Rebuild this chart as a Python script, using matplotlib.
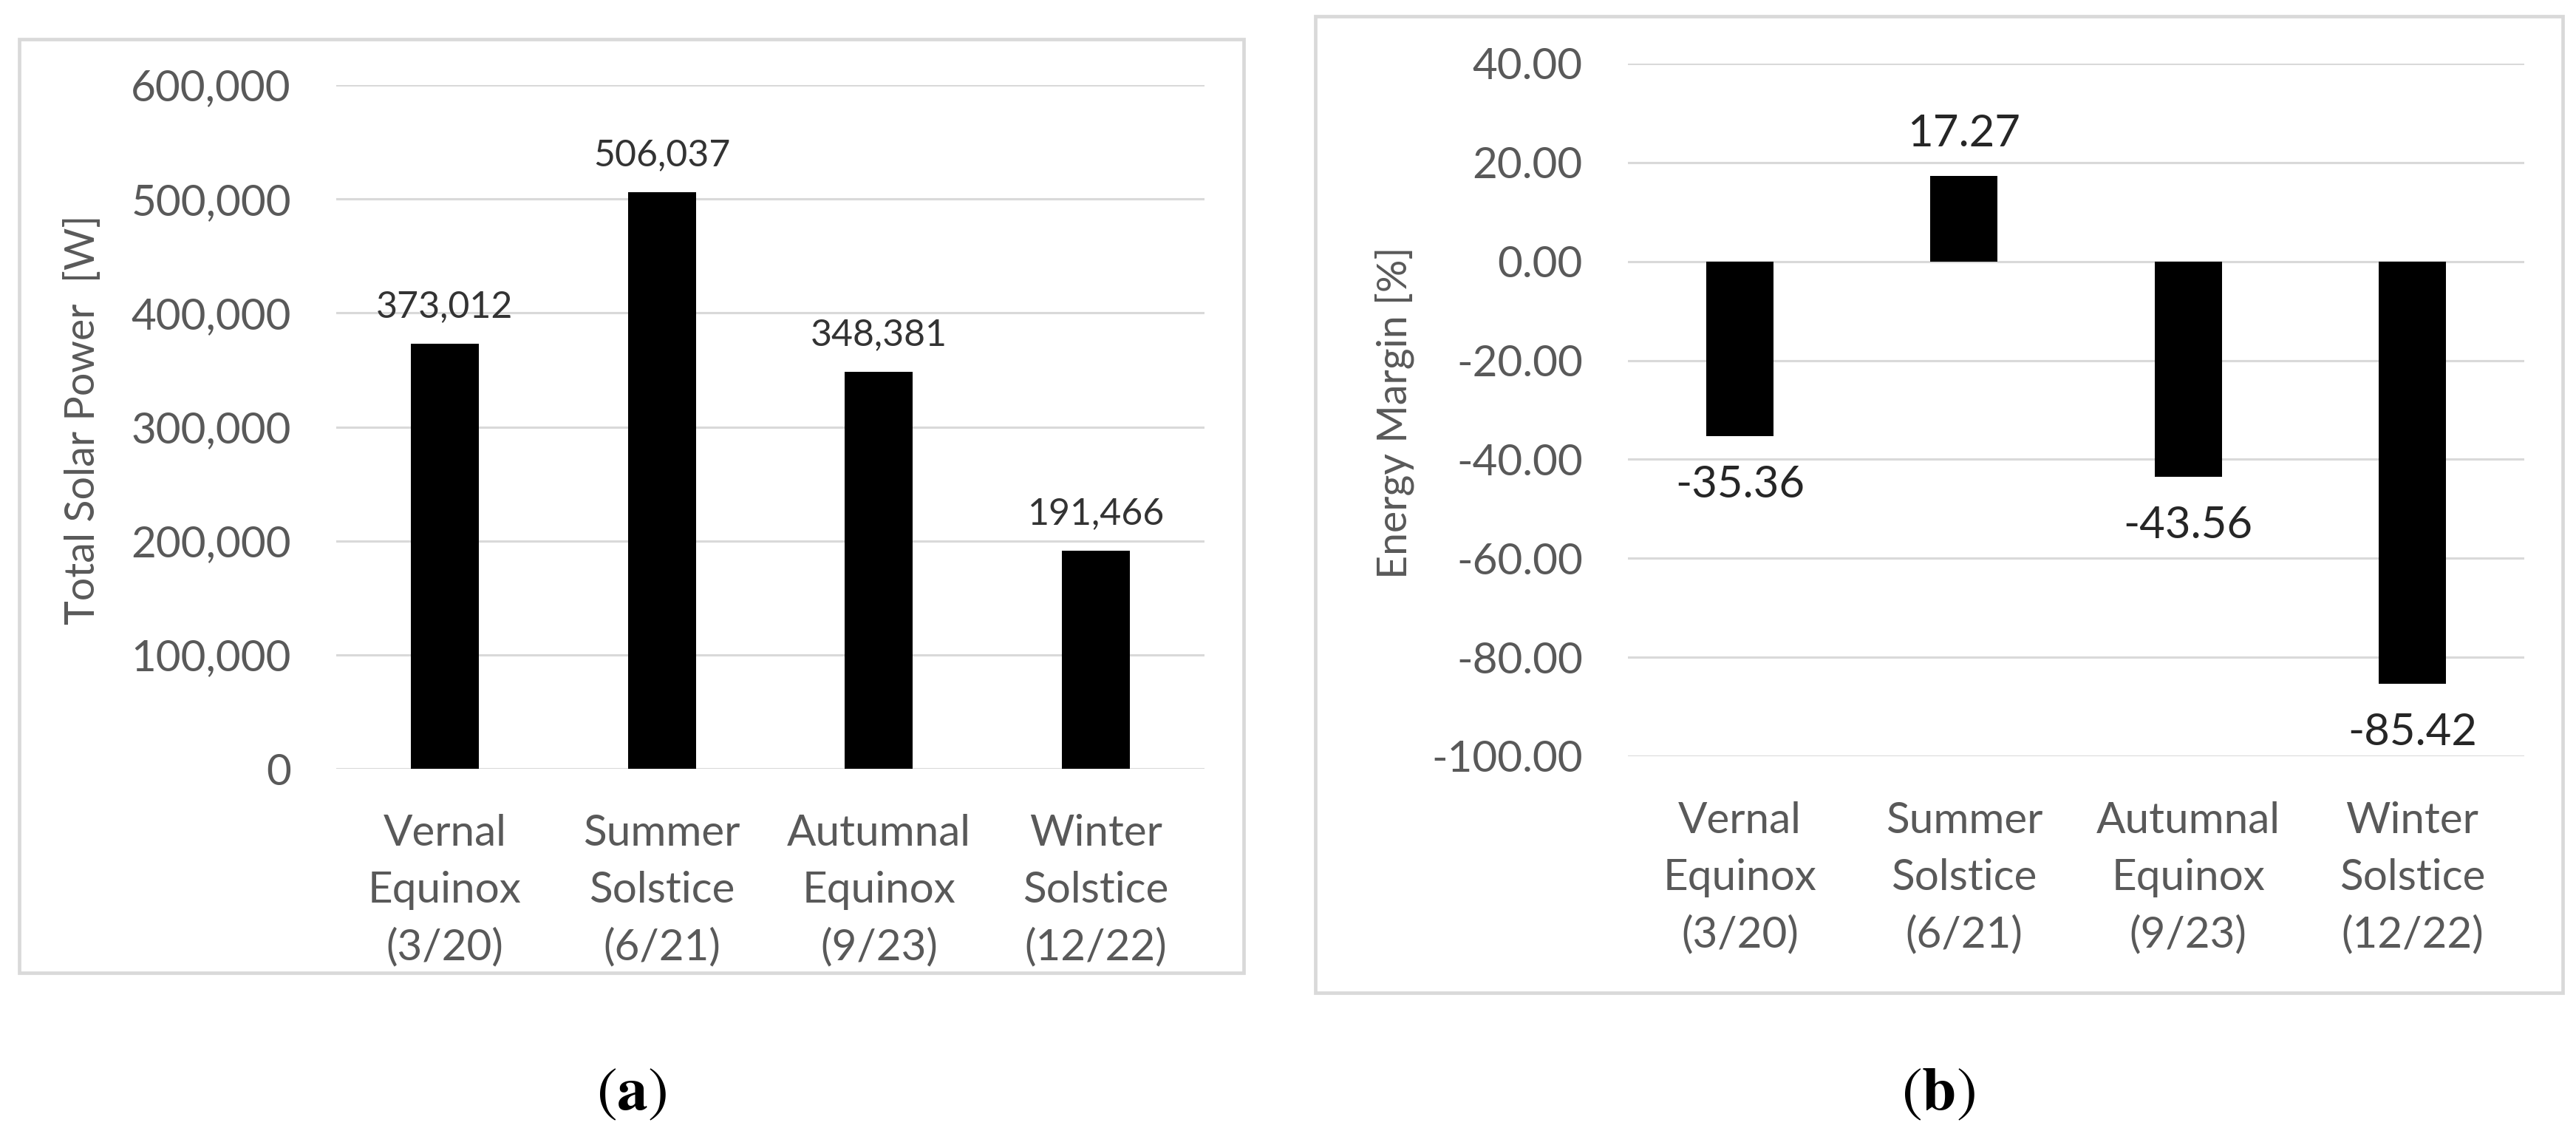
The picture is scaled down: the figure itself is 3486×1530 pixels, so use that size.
import matplotlib
matplotlib.use("Agg")
import matplotlib.pyplot as plt
from matplotlib.patches import Rectangle
from matplotlib.ticker import FuncFormatter, FixedLocator

# ---------------- data ----------------
categories = ["Vernal\nEquinox\n(3/20)", "Summer\nSolstice\n(6/21)",
              "Autumnal\nEquinox\n(9/23)", "Winter\nSolstice\n(12/22)"]
solar_power = [373012, 506037, 348381, 191466]
energy_margin = [-35.36, 17.27, -43.56, -85.42]
power_ticks = [0, 100000, 200000, 300000, 400000, 500000, 600000]
margin_ticks = [-100, -80, -60, -40, -20, 0, 20, 40]
ylabel_a = "Total Solar Power  [W]"
ylabel_b = "Energy Margin [%]"

# ---------------- style ----------------
W, H, DPI = 3486, 1530, 200
plt.rcParams['font.family'] = ['Lato', 'DejaVu Sans']
plt.rcParams['mathtext.fontset'] = 'stix'
TICK_C = '#595959'
GRID_C = '#D9D9D9'

fig = plt.figure(figsize=(W / DPI, H / DPI), dpi=DPI)


def px_rect(x0, y0, x1, y1):
    return (x0 / W, 1 - y1 / H, (x1 - x0) / W, (y1 - y0) / H)


# panel borders
for (x0, y0, x1, y1) in [(26, 53, 1683, 1316), (1780, 22, 3468, 1343)]:
    l, b, w, h = px_rect(x0, y0, x1, y1)
    fig.patches.append(Rectangle((l, b), w, h, transform=fig.transFigure,
                                 fill=False, edgecolor=GRID_C, linewidth=1.7))

ax1 = fig.add_axes(px_rect(455, 115, 1630, 1040))
ax2 = fig.add_axes(px_rect(2203, 86, 3416, 1023))

x = list(range(len(categories)))


def style(ax, ticks, fmt):
    ax.set_axisbelow(True)
    for s in ax.spines.values():
        s.set_visible(False)
    ax.yaxis.set_major_locator(FixedLocator(ticks))
    ax.yaxis.set_major_formatter(FuncFormatter(fmt))
    ax.grid(axis='y', color=GRID_C, linewidth=1.1)
    ax.grid(axis='x', visible=False)
    ax.set_xlim(-0.5, len(categories) - 0.5)
    ax.set_xticks(x)
    ax.set_xticklabels(categories, fontsize=21, color=TICK_C, linespacing=1.55)
    ax.tick_params(axis='x', length=0, pad=22)
    ax.tick_params(axis='y', length=0, pad=22, labelsize=21, labelcolor=TICK_C)


# ---------------- panel (a) ----------------
ax1.bar(x, solar_power, width=0.313, color='black')
ax1.set_ylim(0, 600000)
style(ax1, power_ticks, lambda v, p: f"{v:,.0f}")
for xi, v in zip(x, solar_power):
    ax1.annotate(f"{v:,}", (xi, v), xytext=(0, 18), textcoords='offset points',
                 ha='center', va='center', fontsize=18, color='#333333')

# ---------------- panel (b) ----------------
ax2.bar(x, energy_margin, width=0.30, color='black')
ax2.set_ylim(-100, 40)
style(ax2, margin_ticks, lambda v, p: f"{v:.2f}")
for xi, v in zip(x, energy_margin):
    off = 20.5 if v >= 0 else -23.5
    ax2.annotate(f"{v:.2f}", (xi, v), xytext=(0, off), textcoords='offset points',
                 ha='center', va='center', fontsize=21.5, color='#262626')

# axis titles
fig.text(113 / W, 1 - 568 / H, ylabel_a, rotation=90, ha='center', va='center',
         fontsize=20, color=TICK_C)
fig.text(1887 / W, 1 - 558 / H, ylabel_b, rotation=90, ha='center', va='center',
         fontsize=20, color=TICK_C)

# sub-figure captions
fig.text(855 / W, 1 - 1480 / H, r'$(\mathbf{a})$', ha='center', va='center',
         fontsize=30, color='black')
fig.text(2623 / W, 1 - 1480 / H, r'$(\mathbf{b})$', ha='center', va='center',
         fontsize=30, color='black')

fig.savefig("out.png", dpi=DPI, facecolor='white')
